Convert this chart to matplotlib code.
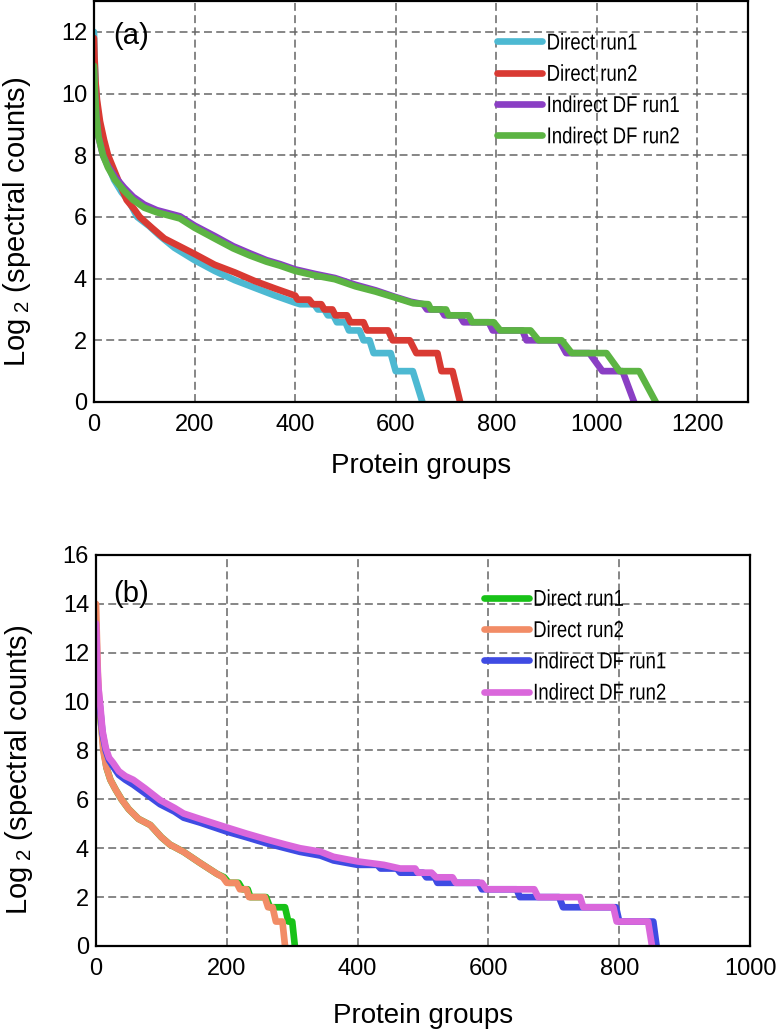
import matplotlib
matplotlib.use("Agg")
import matplotlib.pyplot as plt
from matplotlib.patheffects import AbstractPathEffect
from matplotlib.transforms import Affine2D

plt.rcParams['font.family'] = ['Liberation Sans', 'DejaVu Sans']
plt.rcParams['mathtext.fontset'] = 'custom'
plt.rcParams['mathtext.rm'] = 'Liberation Sans'
plt.rcParams['mathtext.it'] = 'Liberation Sans'

# ---------------- Panel (a) data ----------------
labels = ["Direct run1", "Direct run2", "Indirect DF run1", "Indirect DF run2"]
colors_a = ["#4DB9D2", "#D93A33", "#8A3FC4", "#5CB443"]
colors_b = ["#18C218", "#F28C66", "#3F4BE3", "#DA67DB"]

a_d1_x = [0, 1, 3, 6, 10, 15, 22, 30, 40, 55, 70, 86, 110, 130, 160, 200, 240, 280, 320, 360, 400,
          410, 438, 445, 458, 465, 476, 483, 500, 507, 528, 536, 548, 556, 590, 600, 634, 653]
a_d1_y = [12.0, 11.3, 10.4, 9.6, 9.0, 8.5, 8.0, 7.6, 7.2, 6.8, 6.5, 6.0, 5.7, 5.4, 5.0, 4.6, 4.25, 3.95, 3.7, 3.45, 3.22,
          3.17, 3.17, 3.0, 3.0, 2.81, 2.81, 2.585, 2.585, 2.32, 2.32, 2.0, 2.0, 1.585, 1.585, 1.0, 1.0, 0.0]

a_d2_x = [0, 1, 3, 6, 12, 20, 28, 38, 48, 65, 80, 91, 115, 140, 170, 200, 240, 280, 320, 360, 400,
          405, 428, 435, 452, 458, 474, 480, 503, 510, 536, 543, 585, 594, 628, 641, 683, 691, 713, 728]
a_d2_y = [11.8, 11.2, 10.4, 9.8, 9.1, 8.5, 8.0, 7.6, 7.2, 6.55, 6.25, 6.0, 5.65, 5.3, 5.05, 4.8, 4.45, 4.2, 3.92, 3.68, 3.45,
          3.32, 3.32, 3.17, 3.17, 3.0, 3.0, 2.81, 2.81, 2.585, 2.585, 2.32, 2.32, 2.0, 2.0, 1.585, 1.585, 1.0, 1.0, 0.0]

a_i1_x = [0, 2, 5, 9, 18, 28, 42, 60, 78, 100, 125, 171, 200, 240, 277, 310, 343, 370, 400, 440, 479, 520, 560, 600,
          630, 655, 662, 690, 697, 727, 735, 785, 793, 852, 860, 925, 939, 985, 1011, 1051, 1074]
a_i1_y = [10.8, 10.0, 9.2, 8.6, 8.0, 7.65, 7.3, 6.95, 6.65, 6.4, 6.22, 6.02, 5.72, 5.38, 5.05, 4.82, 4.6, 4.47, 4.3, 4.15, 4.02, 3.8, 3.62, 3.4,
          3.25, 3.17, 3.0, 3.0, 2.81, 2.81, 2.585, 2.585, 2.32, 2.32, 2.0, 2.0, 1.585, 1.585, 1.0, 1.0, 0.0]

a_i2_x = [0, 2, 5, 9, 18, 28, 42, 60, 78, 100, 125, 171, 200, 240, 277, 310, 343, 370, 400, 440, 479, 520, 560, 600,
          635, 665, 670, 700, 705, 745, 752, 795, 808, 868, 884, 930, 950, 1019, 1045, 1084, 1117]
a_i2_y = [10.9, 10.0, 9.2, 8.6, 8.0, 7.6, 7.2, 6.85, 6.55, 6.3, 6.15, 5.95, 5.65, 5.3, 4.98, 4.75, 4.55, 4.42, 4.25, 4.1, 3.98, 3.75, 3.58, 3.38,
          3.2, 3.17, 3.0, 3.0, 2.81, 2.81, 2.585, 2.585, 2.32, 2.32, 2.0, 2.0, 1.585, 1.585, 1.0, 1.0, 0.0]

# ---------------- Panel (b) data ----------------
b_d1_x = [0, 1, 2, 4, 6, 9, 12, 16, 22, 30, 39, 50, 65, 83, 100, 113, 134, 159, 185, 196, 203, 218, 224, 232, 236, 260, 266, 289, 294, 300, 304]
b_d1_y = [11.5, 11.0, 10.5, 10.0, 9.5, 8.8, 8.0, 7.3, 6.8, 6.4, 6.0, 5.6, 5.2, 4.95, 4.45, 4.15, 3.85, 3.4, 2.95, 2.81, 2.585, 2.585, 2.32, 2.32, 2.0, 2.0, 1.585, 1.585, 1.0, 1.0, 0.0]

b_d2_x = [0, 1, 2, 3, 5, 8, 11, 16, 22, 30, 39, 50, 65, 83, 100, 113, 134, 159, 185, 194, 200, 215, 220, 230, 234, 258, 263, 270, 275, 285, 289]
b_d2_y = [14.0, 13.0, 12.0, 11.0, 10.0, 9.0, 8.0, 7.3, 6.8, 6.4, 6.0, 5.6, 5.2, 4.95, 4.45, 4.15, 3.85, 3.4, 2.95, 2.81, 2.585, 2.585, 2.32, 2.32, 2.0, 2.0, 1.585, 1.585, 1.0, 1.0, 0.0]

b_i1_x = [0, 1, 2, 4, 6, 10, 15, 20, 26, 35, 45, 57, 75, 98, 120, 134, 159, 200, 230, 261, 290, 312, 343, 363, 400,
          430, 435, 460, 465, 500, 505, 518, 522, 585, 590, 643, 648, 708, 714, 795, 800, 852, 857]
b_i1_y = [11.0, 10.8, 10.5, 10.2, 9.8, 8.7, 8.0, 7.6, 7.35, 7.0, 6.8, 6.6, 6.25, 5.8, 5.5, 5.25, 5.05, 4.68, 4.45, 4.2, 4.0, 3.85, 3.7, 3.5, 3.32,
          3.32, 3.17, 3.17, 3.0, 3.0, 2.81, 2.81, 2.585, 2.585, 2.32, 2.32, 2.0, 2.0, 1.585, 1.585, 1.0, 1.0, 0.0]

b_i2_x = [0, 1, 2, 4, 6, 10, 15, 20, 26, 35, 45, 57, 75, 98, 120, 134, 159, 200, 230, 261, 290, 312, 343, 363, 400, 440,
          465, 488, 492, 513, 520, 545, 550, 590, 597, 670, 676, 740, 745, 791, 796, 844, 850]
b_i2_y = [13.2, 12.5, 11.5, 10.5, 10.0, 8.8, 8.1, 7.7, 7.5, 7.15, 6.95, 6.8, 6.45, 5.97, 5.65, 5.42, 5.2, 4.85, 4.6, 4.36, 4.15, 4.0, 3.86, 3.65, 3.46, 3.32,
          3.17, 3.17, 3.0, 3.0, 2.81, 2.81, 2.585, 2.585, 2.32, 2.32, 2.0, 2.0, 1.585, 1.585, 1.0, 1.0, 0.0]

a_xticks = [0, 200, 400, 600, 800, 1000, 1200]
a_yticks = [0, 2, 4, 6, 8, 10, 12]
b_xticks = [0, 200, 400, 600, 800, 1000]
b_yticks = [0, 2, 4, 6, 8, 10, 12, 14, 16]


class Condense(AbstractPathEffect):
    """Draw text paths squeezed horizontally about their origin."""
    def __init__(self, sx=0.84):
        super().__init__()
        self.sx = sx

    def draw_path(self, renderer, gc, tpath, affine, rgbFace=None):
        renderer.draw_path(gc, tpath, Affine2D().scale(self.sx, 1.0) + affine, rgbFace)


fig = plt.figure(figsize=(7.83, 10.35), dpi=100)
ax_a = fig.add_axes([0.120, 0.6116, 0.835, 0.3874])
ax_b = fig.add_axes([0.1226, 0.086, 0.8354, 0.3778])


def style(ax, xlim, ylim, xticks, yticks, tag, tagpos, xlpad):
    ax.set_xlim(*xlim)
    ax.set_ylim(*ylim)
    ax.set_xticks(xticks)
    ax.set_yticks(yticks)
    ax.grid(True, linestyle=(0, (5.2, 2.8)), color="#666666", linewidth=1.1)
    ax.set_axisbelow(True)
    for s in ax.spines.values():
        s.set_linewidth(1.6)
        s.set_color("black")
    ax.tick_params(length=0, labelsize=17)
    ax.tick_params(axis='y', pad=5)
    ax.tick_params(axis='x', pad=9)
    ax.set_xlabel("Protein groups", fontsize=20, labelpad=xlpad)
    ax.set_ylabel(r"Log$_{\ 2}$ (spectral counts)", fontsize=21)
    ax.yaxis.set_label_coords(-0.093, 0.45)
    ax.text(tagpos[0], tagpos[1], tag, transform=ax.transAxes,
            fontsize=21, va="top", ha="left")


style(ax_a, (0, 1300), (0, 13), a_xticks, a_yticks, "(a)", (0.030, 0.948), 12)
style(ax_b, (0, 1000), (0, 16), b_xticks, b_yticks, "(b)", (0.026, 0.935), 16)

series_a = [(a_d1_x, a_d1_y), (a_d2_x, a_d2_y), (a_i1_x, a_i1_y), (a_i2_x, a_i2_y)]
series_b = [(b_d1_x, b_d1_y), (b_d2_x, b_d2_y), (b_i1_x, b_i1_y), (b_i2_x, b_i2_y)]

for (x, y), c, lab in zip(series_a, colors_a, labels):
    ax_a.plot(x, y, color=c, lw=4.8, label=lab, solid_capstyle="round", solid_joinstyle="round")
for (x, y), c, lab in zip(series_b, colors_b, labels):
    ax_b.plot(x, y, color=c, lw=4.8, label=lab, solid_capstyle="round", solid_joinstyle="round")

for ax, bx in ((ax_a, (0.617, 0.924)), (ax_b, (0.593, 0.916))):
    leg = ax.legend(loc="upper left", bbox_to_anchor=bx, frameon=False, fontsize=16.5,
                    handlelength=1.95, handletextpad=0.2, labelspacing=0.36, borderpad=0,
                    borderaxespad=0)
    for t in leg.get_texts():
        t.set_path_effects([Condense(0.81)])

fig.savefig("out.png", dpi=100)
